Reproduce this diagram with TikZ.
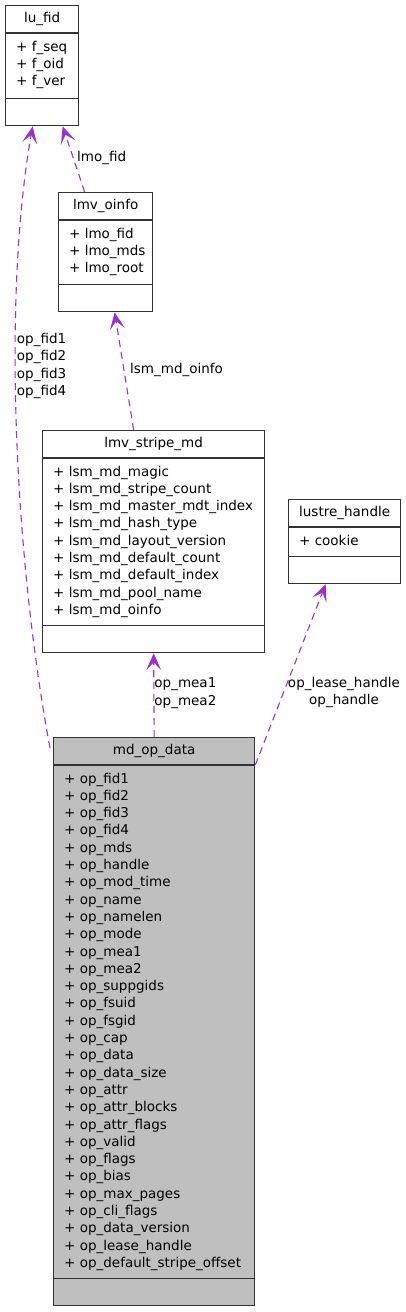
\documentclass[tikz,border=0pt]{standalone}
\usepackage{fontspec}
\setmainfont{DejaVu Sans}
\usetikzlibrary{arrows.meta,positioning}
\definecolor{edgepurple}{HTML}{9A32CD}

\begin{document}
\begin{tikzpicture}[x=1pt, y=-1pt, >={Stealth[length=17pt, width=15pt, inset=8pt]},
  font=\fontsize{13.5}{17.3}\selectfont,
  cls/.style={draw=black!80, line width=1.3pt, anchor=north west, inner sep=0pt},
  title/.style={anchor=base, inner sep=0pt},
  attr/.style={anchor=base west, inner sep=0pt},
  sep/.style={draw=black!80, line width=1.3pt},
  uses/.style={->, draw=edgepurple, line width=1.1pt, dash pattern=on 7pt off 5pt},
  lbl/.style={inner sep=0pt, align=left}]
  \useasboundingbox (0,0) rectangle (405,1312);

  % lu_fid
  \node[cls, minimum width=73pt, minimum height=120pt] (lufid) at (5,5) {};
  \node[title] (lufid-t) at ([yshift=-17.3pt]lufid.north) {lu\_fid};
  \foreach \a [count=\i] in {f\_seq, f\_oid, f\_ver}
    \node[attr] (lufid-\i) at ([xshift=11pt, yshift={-28.7-17.3*\i}]lufid.north west) {+ \a};
  \draw[sep] ([yshift=-28pt]lufid.north west) -- ([yshift=-28pt]lufid.north east);
  \draw[sep] ([yshift=28pt]lufid.south west) -- ([yshift=28pt]lufid.south east);

  % lmv_oinfo
  \node[cls, minimum width=94pt, minimum height=119pt] (oinfo) at (58,192) {};
  \node[title] (oinfo-t) at ([yshift=-17.3pt]oinfo.north) {lmv\_oinfo};
  \foreach \a [count=\i] in {lmo\_fid, lmo\_mds, lmo\_root}
    \node[attr] (oinfo-\i) at ([xshift=11pt, yshift={-28.7-17.3*\i}]oinfo.north west) {+ \a};
  \draw[sep] ([yshift=-28pt]oinfo.north west) -- ([yshift=-28pt]oinfo.north east);
  \draw[sep] ([yshift=28pt]oinfo.south west) -- ([yshift=28pt]oinfo.south east);

  % lmv_stripe_md
  \node[cls, minimum width=222pt, minimum height=222pt] (stripe) at (42,430) {};
  \node[title] (stripe-t) at ([yshift=-17.3pt]stripe.north) {lmv\_stripe\_md};
  \foreach \a [count=\i] in {lsm\_md\_magic, lsm\_md\_stripe\_count, lsm\_md\_master\_mdt\_index,
      lsm\_md\_hash\_type, lsm\_md\_layout\_version, lsm\_md\_default\_count,
      lsm\_md\_default\_index, lsm\_md\_pool\_name, lsm\_md\_oinfo}
    \node[attr] (stripe-\i) at ([xshift=11pt, yshift={-28.7-17.3*\i}]stripe.north west) {+ \a};
  \draw[sep] ([yshift=-28pt]stripe.north west) -- ([yshift=-28pt]stripe.north east);
  \draw[sep] ([yshift=28pt]stripe.south west) -- ([yshift=28pt]stripe.south east);

  % lustre_handle
  \node[cls, minimum width=112pt, minimum height=84pt] (handle) at (288,499) {};
  \node[title] (handle-t) at ([yshift=-17.3pt]handle.north) {lustre\_handle};
  \node[attr] (handle-1) at ([xshift=11pt, yshift=-46pt]handle.north west) {+ cookie};
  \draw[sep] ([yshift=-28pt]handle.north west) -- ([yshift=-28pt]handle.north east);
  \draw[sep] ([yshift=28pt]handle.south west) -- ([yshift=28pt]handle.south east);

  % md_op_data
  \node[cls, fill=black!25, minimum width=201pt, minimum height=568pt] (opdata) at (53,737) {};
  \node[title] (opdata-t) at ([yshift=-17.3pt]opdata.north) {md\_op\_data};
  \foreach \a [count=\i] in {op\_fid1, op\_fid2, op\_fid3, op\_fid4, op\_mds, op\_handle,
      op\_mod\_time, op\_name, op\_namelen, op\_mode, op\_mea1, op\_mea2, op\_suppgids,
      op\_fsuid, op\_fsgid, op\_cap, op\_data, op\_data\_size, op\_attr, op\_attr\_blocks,
      op\_attr\_flags, op\_valid, op\_flags, op\_bias, op\_max\_pages, op\_cli\_flags,
      op\_data\_version, op\_lease\_handle, op\_default\_stripe\_offset}
    \node[attr] (opdata-\i) at ([xshift=11pt, yshift={-28.7-17.3*\i}]opdata.north west) {+ \a};
  \draw[sep] ([yshift=-28pt]opdata.north west) -- ([yshift=-28pt]opdata.north east);
  \draw[sep] ([yshift=28pt]opdata.south west) -- ([yshift=28pt]opdata.south east);

  % usage edges
  \draw[uses] ([xshift=-3pt, yshift=-11pt]opdata.north west) .. controls (15,560) and (2,300) .. ([xshift=-9.5pt]lufid.south)
    node[lbl, pos=0.6, anchor=west, xshift=1pt] (fid-l) {op\_fid1\\op\_fid2\\op\_fid3\\op\_fid4};
  \draw[uses] ([xshift=-21pt]oinfo.north) -- ([xshift=20.5pt]lufid.south)
    node[lbl, midway, anchor=west, xshift=3pt, yshift=1pt] (lmofid-l) {lmo\_fid};
  \draw[uses] ([xshift=-20pt]stripe.north) -- ([xshift=9pt]oinfo.south)
    node[lbl, midway, anchor=west, xshift=5.5pt, yshift=1pt] (oinfo-l) {lsm\_md\_oinfo};
  \draw[uses] (opdata.north) -- (stripe.south)
    node[lbl, midway, anchor=west, yshift=2pt] (mea-l) {op\_mea1\\op\_mea2};
  \draw[uses] ([yshift=-28pt]opdata.north east) -- ([xshift=-19pt]handle.south)
    node[lbl, align=center, pos=0.4, anchor=west, xshift=4pt] (handle-l) {op\_lease\_handle\\op\_handle};
\end{tikzpicture}
\end{document}
